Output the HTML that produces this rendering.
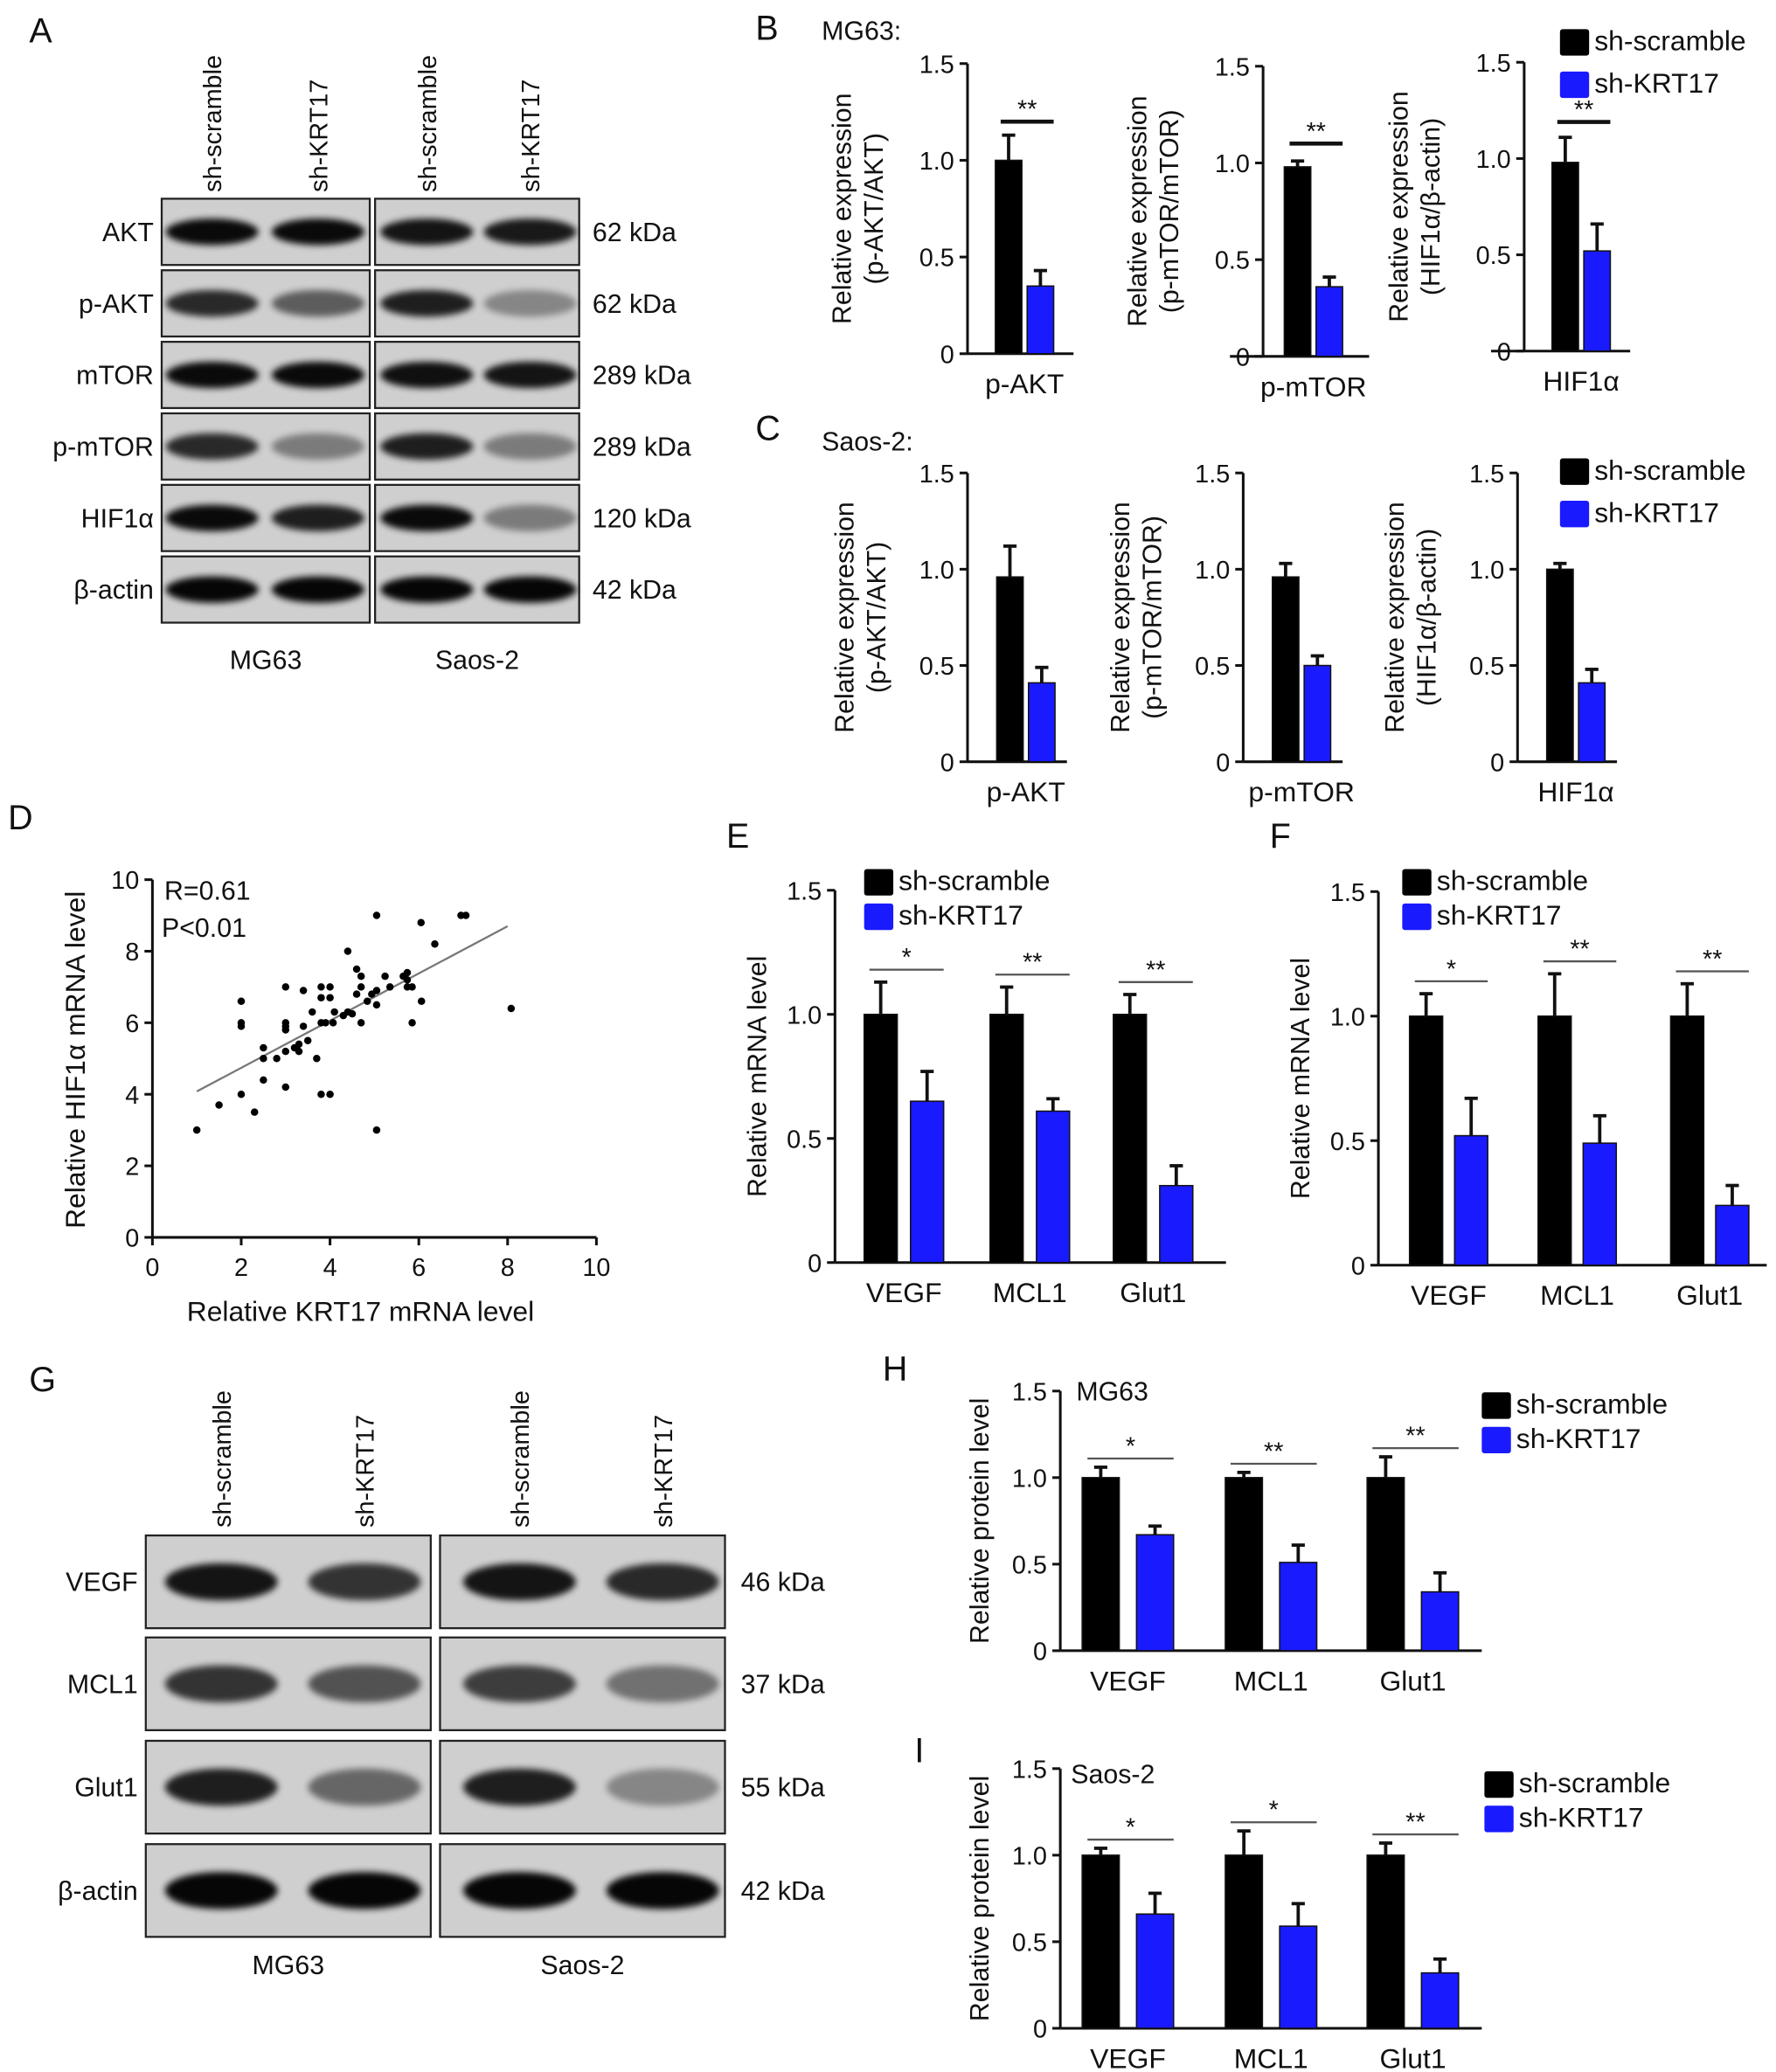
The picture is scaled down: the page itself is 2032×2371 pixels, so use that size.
<!DOCTYPE html>
<html><head><meta charset="utf-8"><style>
html,body{margin:0;padding:0;background:#fff;}
svg{display:block;}
text{font-family:"Liberation Sans",sans-serif;fill:#111;}
</style></head><body>
<svg id="fig" width="2032" height="2371" viewBox="0 0 1340 1564" preserveAspectRatio="none" xmlns="http://www.w3.org/2000/svg">
<defs>
<filter id="blur" x="-20%" y="-50%" width="140%" height="200%"><feGaussianBlur stdDeviation="2.5"/></filter>
</defs>
<g id="root"></g>
</svg>
<script>
// ---- data ----
const groupNames = ["sh-scramble","sh-KRT17"];
const bCats = ["p-AKT","p-mTOR","HIF1α"];
const bScr = [1.0,0.98,0.98];
const bScrErr = [0.13,0.03,0.13];
const bKrt = [0.35,0.36,0.52];
const bKrtErr = [0.08,0.05,0.14];
const cScr = [0.96,0.96,1.0];
const cScrErr = [0.16,0.07,0.03];
const cKrt = [0.41,0.50,0.41];
const cKrtErr = [0.08,0.05,0.07];
const geneCats = ["VEGF","MCL1","Glut1"];
const eScr = [1.0,1.0,1.0];
const eScrErr = [0.13,0.11,0.08];
const eKrt = [0.65,0.61,0.31];
const eKrtErr = [0.12,0.05,0.08];
const eSig = ["*","**","**"];
const fScr = [1.0,1.0,1.0];
const fScrErr = [0.09,0.17,0.13];
const fKrt = [0.52,0.49,0.24];
const fKrtErr = [0.15,0.11,0.08];
const fSig = ["*","**","**"];
const hScr = [1.0,1.0,1.0];
const hScrErr = [0.06,0.03,0.12];
const hKrt = [0.67,0.51,0.34];
const hKrtErr = [0.05,0.10,0.11];
const hSig = ["*","**","**"];
const iScr = [1.0,1.0,1.0];
const iScrErr = [0.04,0.14,0.07];
const iKrt = [0.66,0.59,0.32];
const iKrtErr = [0.12,0.13,0.08];
const iSig = ["*","*","**"];
const yTicks = [0,0.5,1.0,1.5];
const yTickLabels = ["0","0.5","1.0","1.5"];
const scatterX = [1.0,1.5,2,2,2,2,2.3,2.5,2.5,2.5,2.8,3,3,3,3,3,3,3.2,3.3,3.3,3.4,3.4,3.5,3.6,3.7,3.8,3.8,3.8,3.8,4,4,3.9,4.07,4,4.1,4.3,4.4,4.5,4.4,4.6,4.7,4.7,4.6,4.7,4.84,4.94,5.05,5.05,5.05,5.05,5.24,5.35,5.65,5.74,5.74,5.74,5.85,5.85,6.05,6.06,6.36,6.95,7.06,8.08];
const scatterY = [3.0,3.7,6.6,6.0,5.9,4.0,3.5,5.3,5.0,4.4,5.0,7.0,6.0,5.9,5.8,5.2,4.2,5.3,5.2,5.4,6.9,5.9,5.5,6.3,5.0,7.0,6.7,6.0,4.0,7.0,6.7,6.0,6.0,4.0,6.3,6.2,6.3,6.25,8.0,7.5,7.3,7.0,6.8,6.0,6.6,6.8,6.9,6.5,9.0,3.0,7.3,7.0,7.3,7.4,7.2,7.0,7.0,6.0,8.8,6.6,8.2,9.0,9.0,6.4];
const fitX = [1.0,8.0];
const fitY = [4.08,8.7];
const sTicks = [0,2,4,6,8,10];
// blot band intensities (0..1) per row, per lane
const blotARows = ["AKT","p-AKT","mTOR","p-mTOR","HIF1α","β-actin"];
const blotAkDa = ["62 kDa","62 kDa","289 kDa","289 kDa","120 kDa","42 kDa"];
const blotAInt = [[0.95,0.95,0.9,0.88],[0.8,0.55,0.85,0.35],[0.95,0.95,0.92,0.9],[0.8,0.4,0.85,0.4],[0.95,0.85,0.95,0.4],[0.97,0.97,0.97,0.97]];
const blotGRows = ["VEGF","MCL1","Glut1","β-actin"];
const blotGkDa = ["46 kDa","37 kDa","55 kDa","42 kDa"];
const blotGInt = [[0.9,0.75,0.9,0.8],[0.75,0.6,0.7,0.45],[0.85,0.5,0.85,0.35],[0.97,0.97,0.97,0.97]];

const NS="http://www.w3.org/2000/svg";
const root=document.getElementById('root');
function el(tag,attrs,parent,txt){const e=document.createElementNS(NS,tag);for(const k in attrs)e.setAttribute(k,attrs[k]);if(txt!==undefined)e.textContent=txt;(parent||root).appendChild(e);return e;}
function label(x,y,t,size,anchor,name,extra){const e=el('text',Object.assign({x:x,y:y,'font-size':size,'text-anchor':anchor||'start'},extra||{}),root,t);


return e;}

// panel letters
[["A",22,32],["B",570,30],["C",570,332],["D",6,626],["E",548,640],["F",958,640],["G",22,1050],["H",666,1042],["I",690,1330]].forEach(p=>{
 label(p[1],p[2],p[0],26,'start','panel-label-'+p[0].toLowerCase());
});

// ---- bar chart ----
function barChart(o){
 const g=el('g',{});
 
 
 const ys=v=>o.y0-(v/1.5)*(o.y0-o.y15);
 el('line',{x1:o.ax,y1:o.y15,x2:o.ax,y2:o.y0,stroke:'#111','stroke-width':2},g);
 el('line',{x1:o.ax-(o.leftExt||0),y1:o.y0,x2:o.xEnd,y2:o.y0,stroke:'#111','stroke-width':2},g);
 yTicks.forEach((t,i)=>{const y=ys(t);
  el('line',{x1:o.ax-6,y1:y,x2:o.ax,y2:y,stroke:'#111','stroke-width':2},g);
  const tl=el('text',{x:o.ax-10,y:y+7,'font-size':19,'text-anchor':'end'},g,yTickLabels[i]);
  
  
 });
 o.cats.forEach((c,i)=>{
  const cx=o.cx[i];
  [[o.scr,o.scrErr,'#000',cx-o.bw-o.gap/2,'scramble'],[o.krt,o.krtErr,'#1a1aff',cx+o.gap/2,'krt17']].forEach(s=>{
   const v=s[0][i],e=s[1][i];
   el('line',{x1:s[3]+o.bw/2,y1:ys(v+e),x2:s[3]+o.bw/2,y2:ys(v),stroke:'#111','stroke-width':2.5},g);
   el('line',{x1:s[3]+o.bw/2-5,y1:ys(v+e),x2:s[3]+o.bw/2+5,y2:ys(v+e),stroke:'#111','stroke-width':2.5},g);
   const r=el('rect',{x:s[3],y:ys(v),width:o.bw,height:o.y0-ys(v),fill:s[2],stroke:'#111','stroke-width':1},g);
   
   
  });
  const xl=el('text',{x:cx,y:o.y0+30,'font-size':21,'text-anchor':'middle'},g,c);
  
  
  if(o.sig){const sy=ys(o.sigY?o.sigY[i]:Math.max(o.scr[i]+o.scrErr[i],o.krt[i]+o.krtErr[i])+0.05);
   el('line',{x1:cx-o.bw-o.gap/2+4,y1:sy,x2:cx+o.bw+o.gap/2,y2:sy,stroke:o.sigThick?'#111':'#555','stroke-width':o.sigThick?3:1.5},g);
   const st=el('text',{x:cx+2,y:sy-3,'font-size':19,'text-anchor':'middle',fill:'#444'},g,o.sig[i]);
   
   }
 });
 const ly=(o.y0+o.y15)/2;
 o.ylab.forEach((t,k)=>{
  const lx=o.ylx+k*24;
  const yt=el('text',{x:lx,y:ly,'font-size':20,'text-anchor':'middle',transform:'rotate(-90 '+lx+' '+ly+')'},g,t);
  
  
 });
 if(o.title){const tt=el('text',{x:o.title[1],y:o.title[2],'font-size':20},g,o.title[0]);
  
  }
}
function legend(x,y,dy,name){
 groupNames.forEach((n,i)=>{
  const r=el('rect',{x:x,y:y+i*dy-16,width:22,height:20,rx:2,fill:i?'#1a1aff':'#000'});
  
  
  label(x+26,y+i*dy,n,21,'start','legend-entry-'+n);
 });
}

// B
const bYl=[["Relative expression","(p-AKT/AKT)"],["Relative expression","(p-mTOR/mTOR)"],["Relative expression","(HIF1α/β-actin)"]];
const bAx=[730,953,1150],bY0=[267,269,265],bY15=[48,50,47];
for(let i=0;i<3;i++){
 barChart({name:'chart-b-'+bCats[i].toLowerCase(),ax:bAx[i],y0:bY0[i],y15:bY15[i],xEnd:bAx[i]+80,leftExt:i?25:0,cats:[bCats[i]],cx:[bAx[i]+43-(i==1?5:0)],bw:20,gap:4,
  scr:[bScr[i]],scrErr:[bScrErr[i]],krt:[bKrt[i]],krtErr:[bKrtErr[i]],sig:['**'],sigThick:true,sigY:[i==0?1.2:(i==1?1.1:1.19)],ylab:bYl[i],ylx:bAx[i]-88});
}
label(620,30,"MG63:",20,'start','subtitle-mg63');
legend(1177,38,32);
// C
const cAx=[730,938,1145];
for(let i=0;i<3;i++){
 barChart({name:'chart-c-'+bCats[i].toLowerCase(),ax:cAx[i],y0:575,y15:357,xEnd:cAx[i]+75,leftExt:0,cats:[bCats[i]],cx:[cAx[i]+44],bw:20,gap:4,
  scr:[cScr[i]],scrErr:[cScrErr[i]],krt:[cKrt[i]],krtErr:[cKrtErr[i]],ylab:bYl[i],ylx:cAx[i]-86});
}
label(620,340,"Saos-2:",20,'start','subtitle-saos2');
legend(1177,362,32);
// E F
barChart({name:'chart-e-mrna',ax:630,y0:953,y15:672,xEnd:925,cats:geneCats,cx:[682,777,870],bw:25,gap:10,scr:eScr,scrErr:eScrErr,krt:eKrt,krtErr:eKrtErr,sig:eSig,ylab:["Relative mRNA level"],ylx:578});
legend(652,672,26);
barChart({name:'chart-f-mrna',ax:1040,y0:955,y15:673,xEnd:1333,cats:geneCats,cx:[1093,1190,1290],bw:25,gap:9,scr:fScr,scrErr:fScrErr,krt:fKrt,krtErr:fKrtErr,sig:fSig,ylab:["Relative mRNA level"],ylx:988});
legend(1058,672,26);
// H I
barChart({name:'chart-h-protein',ax:800,y0:1246,y15:1050,xEnd:1118,cats:geneCats,cx:[851,959,1066],bw:28,gap:13,scr:hScr,scrErr:hScrErr,krt:hKrt,krtErr:hKrtErr,sig:hSig,ylab:["Relative protein level"],ylx:746,title:["MG63",812,1057]});
legend(1118,1067,26);
barChart({name:'chart-i-protein',ax:800,y0:1531,y15:1335,xEnd:1118,cats:geneCats,cx:[851,959,1066],bw:28,gap:13,scr:iScr,scrErr:iScrErr,krt:iKrt,krtErr:iKrtErr,sig:iSig,ylab:["Relative protein level"],ylx:746,title:["Saos-2",808,1346]});
legend(1120,1353,26);

// D scatter
(function(){
 const g=el('g',{});
 
 
 const xs=v=>115+v*33.5, ys=v=>934-v*27;
 el('line',{x1:xs(0),y1:ys(10),x2:xs(0),y2:ys(0),stroke:'#111','stroke-width':2},g);
 el('line',{x1:xs(0),y1:ys(0),x2:xs(10),y2:ys(0),stroke:'#111','stroke-width':2},g);
 sTicks.forEach(t=>{
  el('line',{x1:xs(0)-6,y1:ys(t),x2:xs(0),y2:ys(t),stroke:'#111','stroke-width':2},g);
  el('line',{x1:xs(t),y1:ys(0),x2:xs(t),y2:ys(0)+6,stroke:'#111','stroke-width':2},g);
  const a=el('text',{x:xs(0)-10,y:ys(t)+7,'font-size':19,'text-anchor':'end'},g,String(t));
  
  
  const b=el('text',{x:xs(t),y:ys(0)+29,'font-size':19,'text-anchor':'middle'},g,String(t));
  
  
 });
 const ln=el('line',{x1:xs(fitX[0]),y1:ys(fitY[0]),x2:xs(fitX[1]),y2:ys(fitY[1]),stroke:'#777','stroke-width':1.5},g);
 
 
 scatterX.forEach((x,i)=>{
  const c=el('circle',{cx:xs(x),cy:ys(scatterY[i]),r:2.8,fill:'#000'},g);
  
  
 });
 const t1=el('text',{x:124,y:679,'font-size':20},g,'R=0.61');
 
 
 const t2=el('text',{x:122,y:707,'font-size':20},g,'P<0.01');
 
 
 const xt=el('text',{x:272,y:997,'font-size':21,'text-anchor':'middle'},g,'Relative KRT17 mRNA level');
 
 
 const yt=el('text',{x:64,y:800,'font-size':21,'text-anchor':'middle',transform:'rotate(-90 64 800)'},g,'Relative HIF1α mRNA level');
 
 
})();

// blots
function blot(o){
 const g=el('g',{});
 
 
 o.rows.forEach((r,ri)=>{
  const y=o.rowY[ri],h=o.rowH;
  o.panels.forEach((p,pi)=>{
   const pr=el('rect',{x:p[0],y:y,width:p[1]-p[0],height:h,fill:'#cfcfcf',stroke:'#222','stroke-width':1.5},g);
   
   
   [0,1].forEach(li=>{
    const inten=o.ints[ri][pi*2+li];
    const lx=o.lanes[pi*2+li];
    const b=el('ellipse',{cx:lx,cy:y+h/2,rx:o.bandW/2,ry:h*0.2,fill:'#000',opacity:inten,filter:'url(#blur)'},g);
    
    
   });
  });
  const rl=el('text',{x:o.panels[0][0]-6,y:y+h/2+7,'font-size':20,'text-anchor':'end'},g,r);
  
  
  const kl=el('text',{x:o.panels[1][1]+o.kdaOff,y:y+h/2+7,'font-size':20},g,o.kda[ri]);
  
  
 });
 o.lanes.forEach((lx,i)=>{
  const t=el('text',{x:lx+7,y:o.laneY,'font-size':19,'text-anchor':'start',transform:'rotate(-90 '+(lx+7)+' '+o.laneY+')'},g,groupNames[i%2]);
  
  
 });
 ['MG63','Saos-2'].forEach((n,i)=>{
  const t=el('text',{x:(o.panels[i][0]+o.panels[i][1])/2,y:o.cellY,'font-size':20,'text-anchor':'middle'},g,n);
  
  
 });
}
blot({name:'western-blot-a',rows:blotARows,kda:blotAkDa,ints:blotAInt,rowY:[150,204,258,312,366,420],rowH:50,panels:[[122,279],[283,437]],lanes:[160,240,322,400],bandW:70,kdaOff:10,laneY:145,cellY:505});
blot({name:'western-blot-g',rows:blotGRows,kda:blotGkDa,ints:blotGInt,rowY:[1159,1236,1314,1392],rowH:70,panels:[[110,325],[332,547]],lanes:[167,275,392,500],bandW:85,kdaOff:12,laneY:1153,cellY:1490});
</script>
</body></html>
